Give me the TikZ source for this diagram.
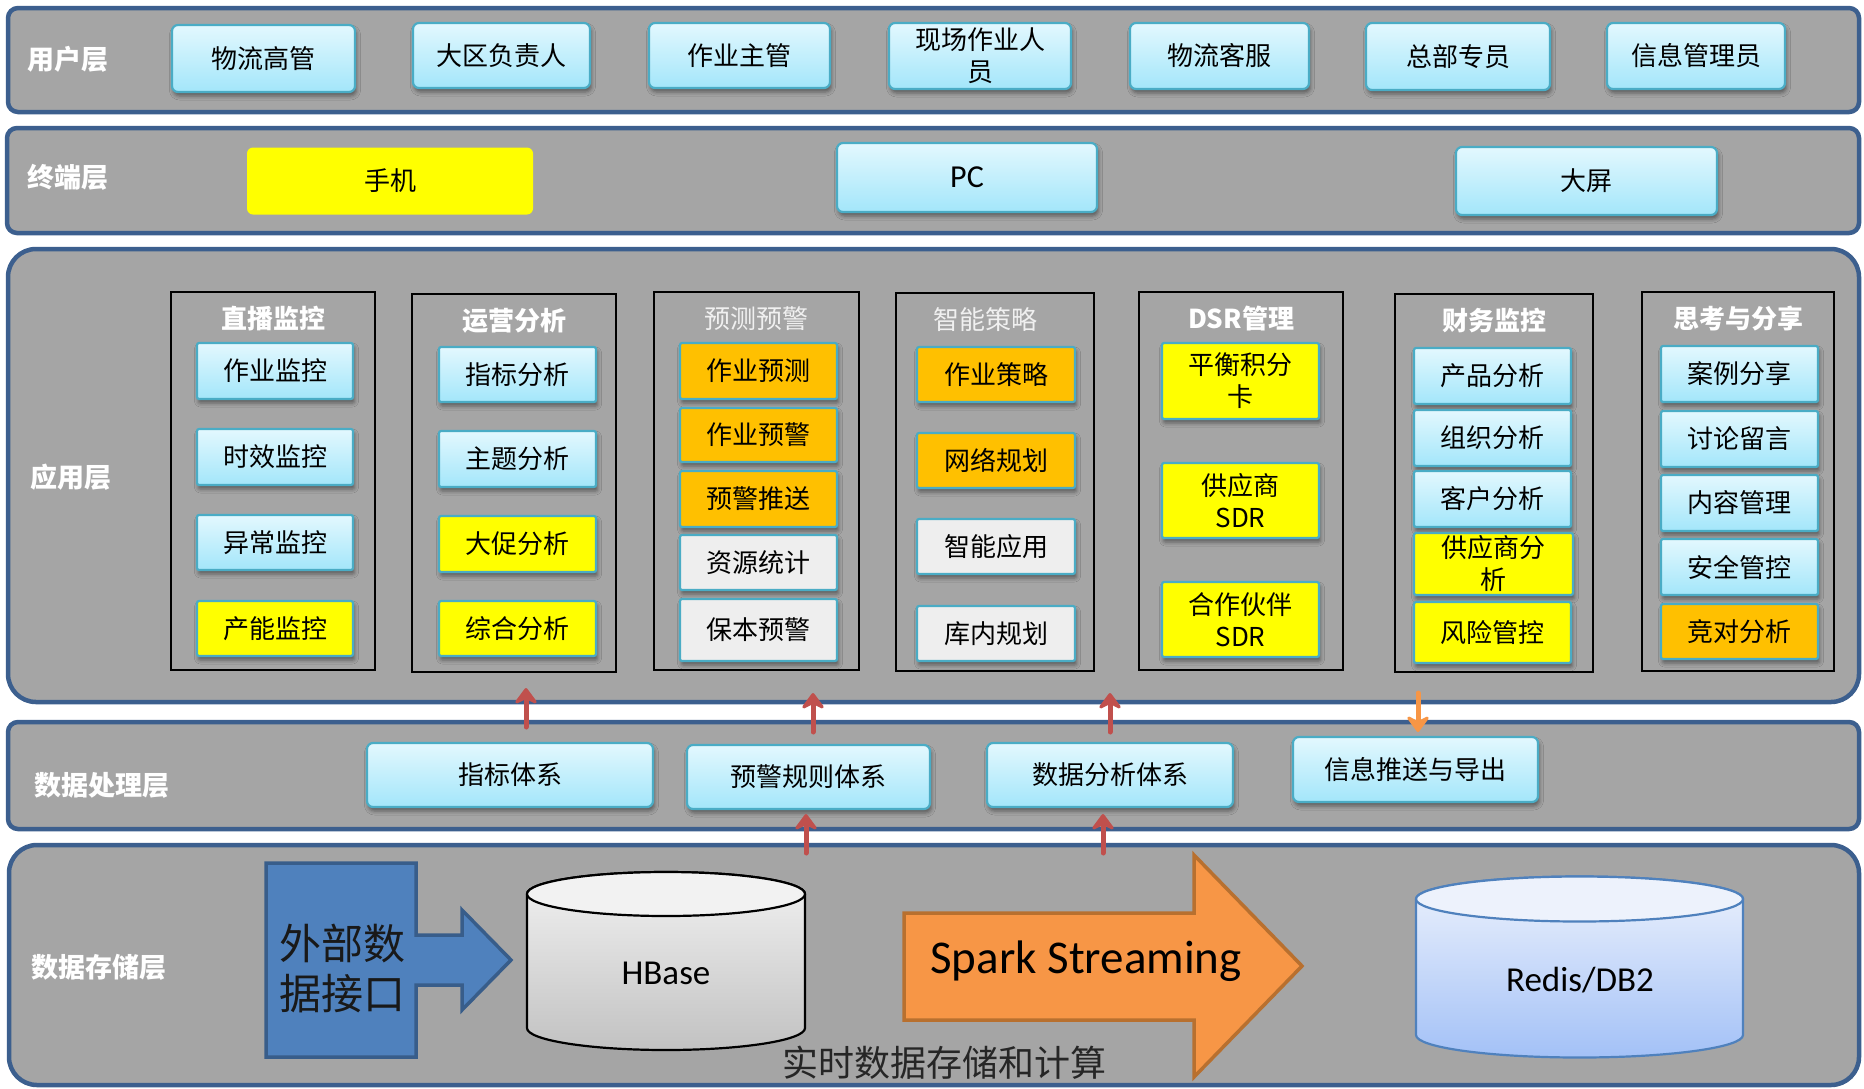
\documentclass[tikz,border=0pt]{standalone}
\usepackage{fontspec}
\setmainfont{Noto Sans CJK SC}
\newfontfamily\latinf{Carlito}
\usetikzlibrary{shadows.blur,arrows.meta}

\definecolor{bandgray}{HTML}{A5A5A5}
\definecolor{bandblue}{HTML}{3C5F8E}
\definecolor{cyanT}{HTML}{E3F8FE}
\definecolor{cyanB}{HTML}{A3E6FA}
\definecolor{boxedge}{HTML}{4AACC5}
\definecolor{ybox}{HTML}{FFFF00}
\definecolor{obox}{HTML}{FFC000}
\definecolor{gbox}{HTML}{EEEEEE}
\definecolor{redarr}{HTML}{C0504D}
\definecolor{orarr}{HTML}{F79646}
\definecolor{blueblk}{HTML}{4F81BD}
\definecolor{blueedge}{HTML}{385D8A}
\definecolor{sparkedge}{HTML}{B8702F}
\definecolor{redisT}{HTML}{EDF2FC}
\definecolor{redisB}{HTML}{A3C1F7}

% corner-based box helper: name, style, x1, y1, x2, y2, text
\newcommand\mkbox[7]{\node[#2, minimum width={#5-#3}, minimum height={#6-#4}] (#1) at ({(#3+#5)/2},{(#4+#6)/2}) {#7};}

\tikzset{
  band/.style={draw=bandblue, line width=4.5pt, fill=bandgray},
  layerlbl/.style={text=white, font=\fontsize{27}{30}\selectfont\bfseries},
  boxbase/.style={rectangle, draw=boxedge, line width=2.2pt, inner sep=0pt,
    align=center, font=\fontsize{26}{32}\selectfont,
    blur shadow={shadow xshift=1.5pt, shadow yshift=-4pt, shadow blur radius=4pt, shadow opacity=45}},
  ubox/.style={boxbase, rounded corners=6pt, top color=cyanT, bottom color=cyanB},
  cbox/.style={boxbase, rounded corners=2pt, top color=cyanT, bottom color=cyanB},
  yelbox/.style={boxbase, rounded corners=2pt, fill=ybox},
  orgbox/.style={boxbase, rounded corners=2pt, fill=obox},
  grybox/.style={boxbase, rounded corners=2pt, fill=gbox},
  frame/.style={rectangle, draw=black, line width=1.3pt, inner sep=0pt},
  gtitle/.style={text=white, font=\fontsize{26}{30}\selectfont\bfseries},
  gtitlelt/.style={text=white!94!black, font=\fontsize{26}{30}\selectfont},
  uparr/.style={draw=redarr, line width=5pt, line cap=round,
    -{Stealth[length=19pt, width=28pt, inset=7pt, round]}},
  dnarr/.style={uparr, draw=orarr},
}

\begin{document}
\begin{tikzpicture}[x=1pt, y=-1pt]
\useasboundingbox (0,0) rectangle (1864,1088);
\fill[white] (0,0) rectangle (1864,1088);

% ---------- layer bands ----------
\path[band, rounded corners=10pt] (8,8) rectangle (1859,112);
\path[band, rounded corners=10pt] (7,128) rectangle (1859,233);
\path[band, rounded corners=28pt] (8,249) rectangle (1859,702);
\path[band, rounded corners=10pt] (8,722) rectangle (1859,829);
\path[band, rounded corners=28pt] (9,845) rectangle (1859,1085);

\node[layerlbl] (l1) at (68,59) {用户层};
\node[layerlbl] (l2) at (68,177) {终端层};
\node[layerlbl] (l3) at (71,477) {应用层};
\node[layerlbl] (l4) at (102,785) {数据处理层};
\node[layerlbl] (l5) at (99,967) {数据存储层};

% ---------- user layer ----------
\mkbox{u1}{ubox}{172}{25}{355}{92}{物流高管}
\mkbox{u2}{ubox}{413}{23}{590}{88}{大区负责人}
\mkbox{u3}{ubox}{649}{23}{830}{88}{作业主管}
\mkbox{u4}{ubox}{889}{23}{1071}{89}{现场作业人\\员}
\mkbox{u5}{ubox}{1130}{23}{1309}{89}{物流客服}
\mkbox{u6}{ubox}{1366}{23}{1550}{90}{总部专员}
\mkbox{u7}{ubox}{1607}{23}{1785}{89}{信息管理员}

% ---------- terminal layer ----------
\node[rectangle, rounded corners=6pt, fill=ybox, inner sep=0pt,
  minimum width=286, minimum height=67, font=\fontsize{26}{30}\selectfont] (t1) at (390,181) {手机};
\mkbox{t2}{ubox, font=\latinf\fontsize{32}{36}\selectfont}{837}{143}{1097}{212}{PC}
\mkbox{t3}{ubox}{1456}{147}{1717}{215}{大屏}

% ---------- application layer: group frames ----------
\mkbox{f1}{frame}{171}{292}{375}{670}{}
\mkbox{f2}{frame}{412}{294}{616}{672}{}
\mkbox{f3}{frame}{654}{292}{859}{670}{}
\mkbox{f4}{frame}{896}{293}{1094}{671}{}
\mkbox{f5}{frame}{1139}{292}{1343}{670}{}
\mkbox{f6}{frame}{1395}{294}{1593}{672}{}
\mkbox{f7}{frame}{1642}{292}{1834}{671}{}

\node[gtitle]   (g1) at (273,319) {直播监控};
\node[gtitle]   (g2) at (514,321) {运营分析};
\node[gtitlelt] (g3) at (756,319) {预测预警};
\node[gtitlelt] (g4) at (985,320) {智能策略};
\node[gtitle]   (g5) at (1241,319) {DSR管理};
\node[gtitle]   (g6) at (1494,321) {财务监控};
\node[gtitle]   (g7) at (1738,319) {思考与分享};

% live monitoring
\mkbox{a11}{cbox}{197}{343}{353}{399}{作业监控}
\mkbox{a12}{cbox}{197}{429}{353}{485}{时效监控}
\mkbox{a13}{cbox}{197}{515}{353}{570}{异常监控}
\mkbox{a14}{yelbox}{197}{601}{353}{656}{产能监控}
% operations analysis
\mkbox{a21}{cbox}{439}{347}{596}{402}{指标分析}
\mkbox{a22}{cbox}{439}{431}{596}{487}{主题分析}
\mkbox{a23}{yelbox}{439}{516}{596}{572}{大促分析}
\mkbox{a24}{yelbox}{439}{601}{596}{656}{综合分析}
% forecasting and alerts
\mkbox{a31}{orgbox}{680}{343}{837}{399}{作业预测}
\mkbox{a32}{orgbox}{680}{408}{837}{462}{作业预警}
\mkbox{a33}{orgbox}{680}{471}{837}{527}{预警推送}
\mkbox{a34}{grybox}{680}{535}{837}{590}{资源统计}
\mkbox{a35}{grybox}{680}{599}{837}{661}{保本预警}
% smart strategy
\mkbox{a41}{orgbox}{917}{347}{1075}{402}{作业策略}
\mkbox{a42}{orgbox}{917}{433}{1075}{488}{网络规划}
\mkbox{a43}{grybox}{917}{519}{1075}{574}{智能应用}
\mkbox{a44}{grybox}{917}{606}{1075}{661}{库内规划}
% DSR
\mkbox{a51}{yelbox}{1162}{343}{1319}{419}{平衡积分\\卡}
\mkbox{a52}{yelbox}{1162}{463}{1319}{538}{供应商\\SDR}
\mkbox{a53}{yelbox}{1162}{582}{1319}{657}{合作伙伴\\SDR}
% finance
\mkbox{a61}{cbox}{1414}{348}{1571}{404}{产品分析}
\mkbox{a62}{cbox}{1414}{410}{1571}{466}{组织分析}
\mkbox{a63}{cbox}{1414}{471}{1571}{527}{客户分析}
\mkbox{a64}{yelbox}{1414}{533}{1573}{595}{供应商分\\析}
\mkbox{a65}{yelbox}{1414}{602}{1571}{663}{风险管控}
% thinking and sharing
\mkbox{a71}{cbox}{1661}{346}{1818}{402}{案例分享}
\mkbox{a72}{cbox}{1661}{411}{1818}{467}{讨论留言}
\mkbox{a73}{cbox}{1661}{475}{1818}{531}{内容管理}
\mkbox{a74}{cbox}{1661}{539}{1818}{595}{安全管控}
\mkbox{a75}{orgbox}{1661}{604}{1818}{659}{竞对分析}

% ---------- data processing layer ----------
\mkbox{d1}{ubox}{367}{743}{653}{807}{指标体系}
\mkbox{d2}{ubox}{687}{745}{930}{809}{预警规则体系}
\mkbox{d3}{ubox}{987}{743}{1233}{807}{数据分析体系}
\mkbox{d4}{ubox}{1293}{737}{1538}{802}{信息推送与导出}

% arrow end points between the layers
\coordinate (p1s) at (526,727);  \coordinate (p1e) at (526,688);
\coordinate (p2s) at (813,732);  \coordinate (p2e) at (813,693);
\coordinate (p3s) at (1110,732); \coordinate (p3e) at (1110,693);
\coordinate (p4s) at (1418,693); \coordinate (p4e) at (1418,732);
\coordinate (q1s) at (806,853);  \coordinate (q1e) at (806,814);
\coordinate (q2s) at (1103,853); \coordinate (q2e) at (1103,814);

\draw[uparr] (p1s) -- (p1e);
\draw[uparr] (p2s) -- (p2e);
\draw[uparr] (p3s) -- (p3e);
\draw[dnarr] (p4s) -- (p4e);
\draw[uparr] (q1s) -- (q1e);
\draw[uparr] (q2s) -- (q2e);

% ---------- data storage layer ----------
% external data interface block arrow
\draw[fill=blueblk, draw=blueedge, line width=3.5pt, line join=miter]
  (266,863) -- (416,863) -- (416,935) -- (462,935) -- (462,910) -- (511,960)
  -- (462,1010) -- (462,985) -- (416,985) -- (416,1057) -- (266,1057) -- cycle;
\node[align=left, anchor=west, font=\fontsize{42}{50}\selectfont, text=black!90] (ext) at (276,968) {外部数\\据接口};

% HBase cylinder
\draw[black, line width=2.2pt, top color=white!95!black, bottom color=white!76!black]
  (527,894) -- (527,1028) arc[start angle=180, end angle=360, x radius=139pt, y radius=22pt]
  -- (805,894) arc[start angle=0, end angle=180, x radius=139pt, y radius=22pt] -- cycle;
\draw[black, line width=2.2pt, fill=white!95!black] (666,894) ellipse[x radius=139pt, y radius=22pt];
\node[font=\latinf\fontsize{35}{40}\selectfont] (hbase) at (666,973) {HBase};

% Spark Streaming block arrow
\draw[fill=orarr, draw=sparkedge, line width=3.5pt, line join=miter]
  (904,913) -- (1194,913) -- (1194,855) -- (1302,966) -- (1194,1077) -- (1194,1020) -- (904,1020) -- cycle;
\node[font=\latinf\fontsize{47}{52}\selectfont] (spark) at (1086,961) {Spark Streaming};

% Redis/DB2 cylinder
\draw[blueblk, line width=2.2pt, top color=redisT, bottom color=redisB]
  (1416,899) -- (1416,1035) arc[start angle=180, end angle=360, x radius=163.5pt, y radius=22.5pt]
  -- (1743,899) arc[start angle=0, end angle=180, x radius=163.5pt, y radius=22.5pt] -- cycle;
\draw[blueblk, line width=2.2pt, fill=redisT] (1579.5,899) ellipse[x radius=163.5pt, y radius=22.5pt];
\node[font=\latinf\fontsize{35}{40}\selectfont] (redis) at (1580,980) {Redis/DB2};

\node[font=\fontsize{36}{40}\selectfont, text=black!85] (cap) at (944,1063) {实时数据存储和计算};
\end{tikzpicture}
\end{document}
